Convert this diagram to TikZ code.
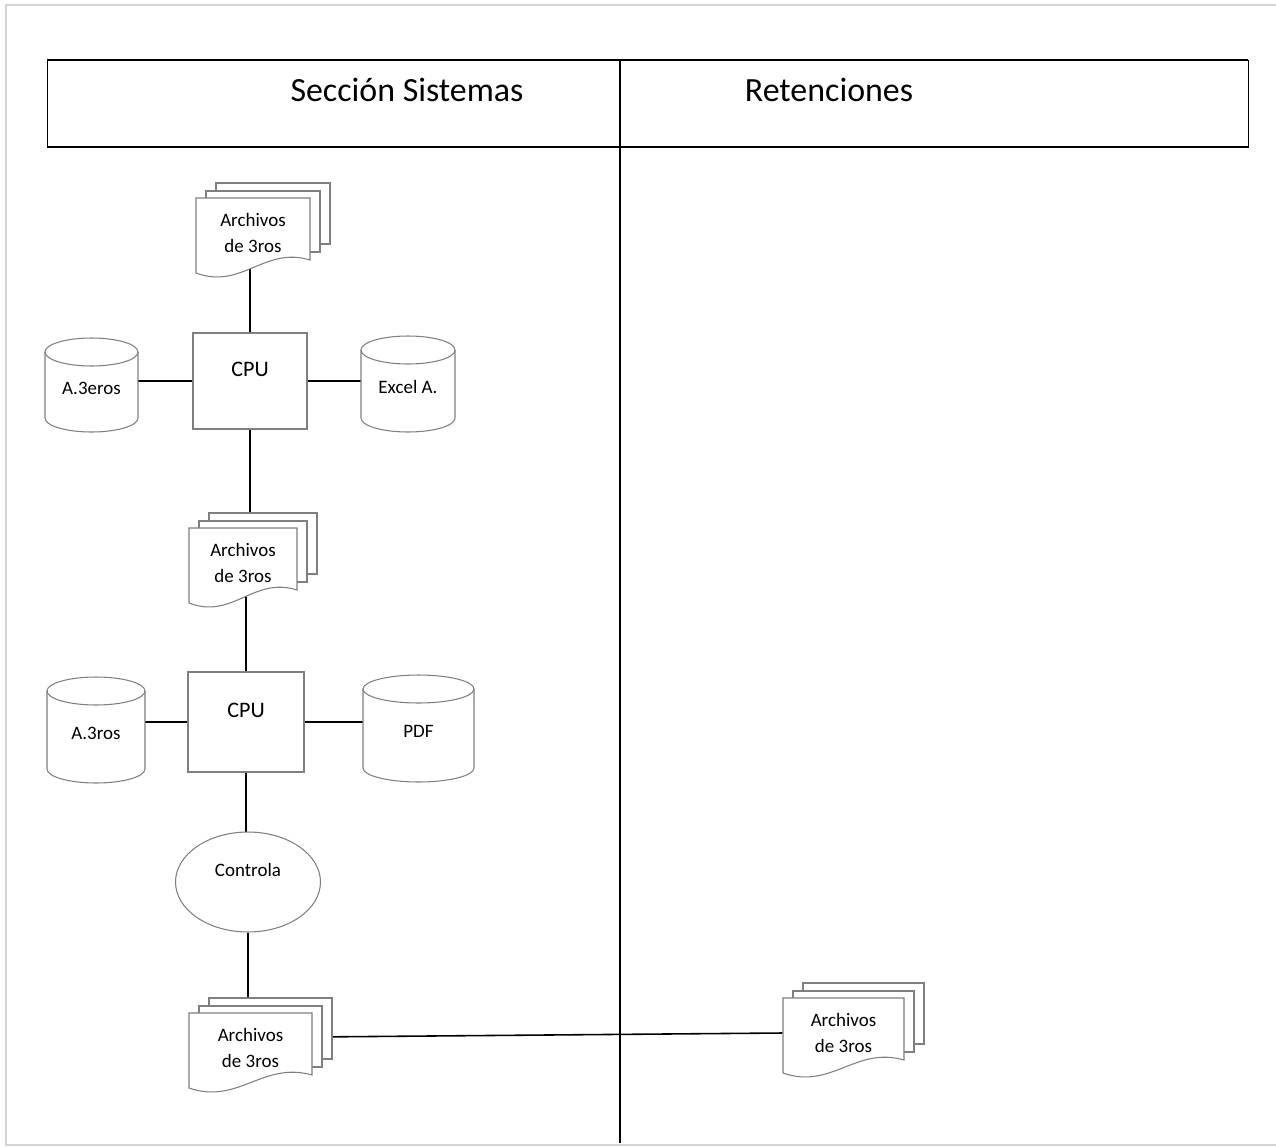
\documentclass[tikz,border=0pt]{standalone}
\usepackage{fontspec}
\setmainfont{Carlito}
\usetikzlibrary{shapes.geometric,backgrounds}
\definecolor{shapegray}{HTML}{7F7F7F}
\definecolor{framegray}{HTML}{D4D4D4}
\tikzset{
  sheet/.style={draw=shapegray,fill=white,line width=0.6pt},
  cpubox/.style={rectangle,draw=shapegray,fill=white,line width=0.6pt,minimum width=23mm,minimum height=19.6mm,font=\fontsize{12.6}{15}\selectfont,text depth=13pt},
  dblabel/.style={font=\fontsize{10.8}{13}\selectfont,inner sep=1pt},
  procoval/.style={ellipse,draw=shapegray,fill=white,line width=0.6pt,minimum width=29mm,minimum height=20mm,font=\fontsize{10.8}{13}\selectfont,text depth=14pt},
  doctext/.style={align=center,font=\fontsize{10.8}{15.3}\selectfont,minimum height=14mm,inner sep=0pt},
  link/.style={black,line width=0.9pt},
  header/.style={font=\fontsize{19.3}{23}\selectfont}
}
\newcommand{\docstack}[4]{%
  \begin{scope}[shift={(#2,#3)}]
    \draw[sheet] (20,-15) rectangle (#4+20,46);
    \draw[sheet] (10,-7) rectangle (#4+10,54);
    \draw[sheet] (0,0) -- (#4,0) -- (#4,62) .. controls (0.6*#4,48) and (0.4*#4,92) .. (0,75) -- cycle;
    \node[doctext,minimum width=#4*0.2mm] (#1) at (0.5*#4,35) {Archivos\\de 3ros};
  \end{scope}}
\newcommand{\dbstore}[6]{%
  \begin{scope}[shift={(#2,#3)}]
    \draw[sheet] (-#4/2,-#5/2+14) -- (-#4/2,#5/2-14)
      arc[start angle=180,end angle=360,x radius=#4*0.1mm,y radius=2.8mm]
      -- (#4/2,-#5/2+14)
      arc[start angle=0,end angle=180,x radius=#4*0.1mm,y radius=2.8mm] -- cycle;
    \draw[sheet,fill=none] (-#4/2,-#5/2+14)
      arc[start angle=180,end angle=360,x radius=#4*0.1mm,y radius=2.8mm];
    \node[dblabel] (#1) at (0,3) {#6};
  \end{scope}}

\begin{document}
\begin{tikzpicture}[x=0.02cm,y=-0.02cm]
\useasboundingbox (0,0) rectangle (1276,1147);
\draw[framegray,line width=1.2pt] (1276,5) -- (6,5) -- (6,1145) -- (1276,1145);
\draw[line width=0.5pt] (47,60) rectangle (1248,147);
\draw[line width=1.2pt] (47,60) -- (1248,60) (47,147) -- (1248,147);
\draw[line width=0.6pt] (620,60) -- (620,1143);
\node[header] (secsis) at (407,90) {Sección Sistemas};
\node[header] (reten) at (829,90) {Retenciones};

\docstack{docA}{196}{198}{114}
\node[cpubox,minimum width=22.8mm,minimum height=19.2mm] (cpuA) at (250,381) {CPU};
\dbstore{dbAtres}{91.5}{385}{93}{94}{A.3eros}
\dbstore{dbExcel}{408}{384}{94}{96}{Excel A.}
\docstack{docB}{189}{528}{108}
\node[cpubox,minimum width=23.2mm,minimum height=20mm] (cpuB) at (246,722) {CPU};
\dbstore{dbAtros}{96}{730}{98}{106}{A.3ros}
\dbstore{dbPdf}{418.5}{728.5}{111}{107}{PDF}
\node[procoval] (ctrl) at (248,882) {Controla};
\docstack{docC}{189}{1013}{123}
\docstack{docD}{783}{998}{121}

\begin{scope}[on background layer]
\draw[link] (cpuA) -- (cpuA |- docA);
\draw[link] (cpuA) -- (cpuA -| dbAtres);
\draw[link] (cpuA) -- (cpuA -| dbExcel);
\draw[link] (cpuA) -- (cpuA |- docB);
\draw[link] (cpuB) -- (cpuB |- docB);
\draw[link] (cpuB) -- (cpuB -| dbAtros);
\draw[link] (cpuB) -- (cpuB -| dbPdf);
\draw[link] (cpuB) -- (cpuB |- ctrl);
\draw[link] (ctrl) -- (ctrl |- docC);
\draw[link] ([yshift=2.2mm]docC.east) -- (docD.west);
\end{scope}
\end{tikzpicture}
\end{document}
